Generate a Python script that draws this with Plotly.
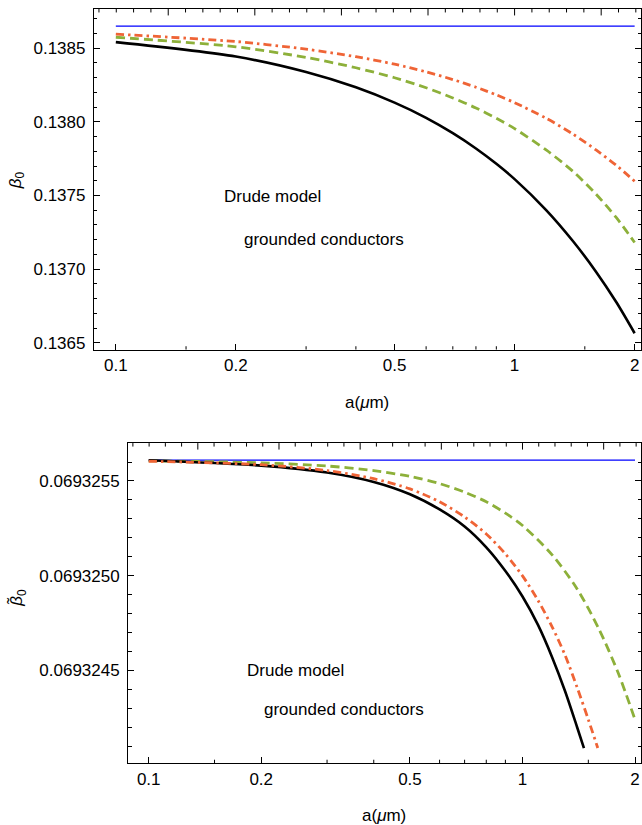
import numpy as np
import plotly.graph_objects as go

# ---------------- data: upper panel (beta_0) ----------------
a_line = [0.1, 2.0]
beta_perfect = 0.138649

a_top = [0.1, 0.2, 0.3, 0.4, 0.5, 0.6, 0.7, 0.8, 0.9, 1.0, 1.2, 1.4, 1.6, 1.8, 2.0]
black_top = [0.138541, 0.138443, 0.138338, 0.138234, 0.138130, 0.138027, 0.137923,
             0.137819, 0.137715, 0.137611, 0.137401, 0.137191, 0.136983, 0.136775,
             0.136565]
red_top = [0.138595, 0.138545, 0.138493, 0.138442, 0.138391, 0.138339, 0.138287,
           0.138235, 0.138183, 0.138130, 0.138024, 0.137917, 0.137809, 0.137704,
           0.137597]
green_top = [0.138574, 0.138509, 0.138437, 0.138367, 0.138299, 0.138231, 0.138162,
             0.138094, 0.138024, 0.137954, 0.137809, 0.137664, 0.137509, 0.137349,
             0.137181]

# ---------------- data: lower panel (beta~_0) ----------------
beta_t_perfect = 0.06932561

black_bot_a = [0.1, 0.2, 0.3, 0.4, 0.5, 0.6, 0.7, 0.8, 0.9, 1.0, 1.1, 1.2, 1.3, 1.4, 1.46]
black_bot = [0.0693256093, 0.0693255810, 0.0693255450, 0.0693254950, 0.0693254300,
             0.0693253500, 0.0693252600, 0.0693251500, 0.0693250250, 0.0693248900,
             0.0693247400, 0.0693245700, 0.0693243900, 0.0693242000, 0.0693240900]

red_bot_a = [0.1, 0.2, 0.3, 0.4, 0.5, 0.6, 0.7, 0.8, 0.9, 1.0, 1.1, 1.2, 1.3, 1.4, 1.5, 1.59]
red_bot = [0.0693256040, 0.0693255860, 0.0693255550, 0.0693255120, 0.0693254580,
           0.0693253900, 0.0693253100, 0.0693252200, 0.0693251150, 0.0693249990,
           0.0693248700, 0.0693247300, 0.0693245800, 0.0693244100, 0.0693242400,
           0.0693240900]

green_bot_a = [0.1, 0.2, 0.3, 0.4, 0.5, 0.6, 0.7, 0.8, 0.9, 1.0, 1.2, 1.4, 1.6, 1.8, 2.0]
green_bot = [0.0693256065, 0.0693255960, 0.0693255790, 0.0693255550, 0.0693255240,
             0.0693254860, 0.0693254410, 0.0693253900, 0.0693253300, 0.0693252650,
             0.0693251100, 0.0693249300, 0.0693247200, 0.0693244900, 0.0693242400]

# ---------------- tick labels ----------------
x_ticks = [0.1, 0.2, 0.5, 1, 2]
x_ticktext = ["0.1", "0.2", "0.5", "1", "2"]
x_minor = [0.15, 0.3, 0.4, 0.6, 0.7, 0.8, 0.9, 1.5]

y_top_ticks = [0.1365, 0.1370, 0.1375, 0.1380, 0.1385]
y_top_ticktext = ["0.1365", "0.1370", "0.1375", "0.1380", "0.1385"]
y_bot_ticks = [0.0693245, 0.0693250, 0.0693255]
y_bot_ticktext = ["0.0693245", "0.0693250", "0.0693255"]

# ---------------- styling ----------------
W, H = 642, 825
FONT = "Liberation Sans, Arial, Helvetica, sans-serif"
RED = "#EF6436"
GREEN = "#8DB03A"
BLUE = "#0000FF"

xr = [-1.0551, 0.317]
y_top_range = [0.136453, 0.138766]
y_bot_range = [0.06932401, 0.06932570]
top_dom_x = [94 / W, 1.0]
top_dom_y = [1 - 351 / H, 1 - 9 / H]
bot_dom_x = [128.3 / W, 1.0]
bot_dom_y = [1 - 766 / H, 1 - 444.7 / H]


def minor_vals(lo, hi, step, majors):
    vals = []
    v = lo
    while v <= hi + step / 2:
        if all(abs(v - m) > step / 10 for m in majors):
            vals.append(round(v, 10))
        v += step
    return vals


y_top_minor = minor_vals(0.1365, 0.1387, 0.0001, y_top_ticks)
y_bot_minor = minor_vals(0.0693241, 0.0693257, 0.0000001, y_bot_ticks)

# top-frame ticks: uniform steps of 0.1 in ln(a), longer every 0.5
ln_lo, ln_hi = xr[0] * np.log(10), xr[1] * np.log(10)
ks = range(int(np.ceil(ln_lo * 10)), int(np.floor(ln_hi * 10)) + 1)
top_major = [float(np.exp(k / 10)) for k in ks if k % 5 == 0]
top_minor = [float(np.exp(k / 10)) for k in ks if k % 5 != 0]

fig = go.Figure()


def add_series(xs, ys, color, width, dash, xa, ya, shape="spline"):
    fig.add_trace(go.Scatter(x=xs, y=ys, mode="lines", xaxis=xa, yaxis=ya,
                             line=dict(color=color, width=width, dash=dash, shape=shape,
                                       smoothing=0.8),
                             hoverinfo="skip", showlegend=False))


def add_frame_ticks(xs, edge, inward, xa, ya):
    # short vertical segments from a frame edge into the plot, separated by gaps
    tx, ty = [], []
    for v in xs:
        tx += [v, v, None]
        ty += [edge, edge + inward, None]
    fig.add_trace(go.Scatter(x=tx, y=ty, mode="lines", xaxis=xa, yaxis=ya,
                             line=dict(color="black", width=1),
                             connectgaps=False, hoverinfo="skip", showlegend=False))


# upper panel
add_series(a_line, [beta_perfect, beta_perfect], BLUE, 1.2, "solid", "x", "y", "linear")
add_series(a_top, green_top, GREEN, 2.8, "9px,5px", "x", "y")
add_series(a_top, red_top, RED, 2.8, "8px,4px,2.5px,4px", "x", "y")
add_series(a_top, black_top, "black", 2.6, "solid", "x", "y")

# lower panel
add_series(a_line, [beta_t_perfect, beta_t_perfect], BLUE, 1.2, "solid", "x2", "y2", "linear")
add_series(green_bot_a, green_bot, GREEN, 2.8, "9px,5px", "x2", "y2")
add_series(black_bot_a, black_bot, "black", 2.6, "solid", "x2", "y2")
add_series(red_bot_a, red_bot, RED, 2.8, "8px,4px,2.5px,4px", "x2", "y2")

# minor ticks on the bottom frames, and the ln-spaced ticks on the top frames
for xa, ya, yr, dom in (("x", "y", y_top_range, top_dom_y), ("x2", "y2", y_bot_range, bot_dom_y)):
    per_px = (yr[1] - yr[0]) / ((dom[1] - dom[0]) * H)
    add_frame_ticks(x_minor, yr[0], 3.5 * per_px, xa, ya)
    add_frame_ticks(top_minor, yr[1], -3.5 * per_px, xa, ya)
    add_frame_ticks(top_major, yr[1], -6.5 * per_px, xa, ya)

tickfont = dict(family=FONT, size=17, color="black")

common_x = dict(type="log", range=xr, showgrid=False, zeroline=False,
                showline=True, linecolor="black", linewidth=1, mirror=True,
                ticks="inside", ticklen=6, tickwidth=1, tickcolor="black",
                tickmode="array", tickvals=x_ticks, ticktext=x_ticktext,
                tickfont=tickfont)

common_y = dict(showgrid=False, zeroline=False, showline=True, linecolor="black",
                linewidth=1, mirror="allticks", ticks="inside", ticklen=6,
                tickwidth=1, tickcolor="black", tickmode="array", tickfont=tickfont,
                ticklabelstandoff=4)

fig.update_layout(
    width=W, height=H,
    margin=dict(l=0, r=0, t=0, b=0),
    paper_bgcolor="white", plot_bgcolor="white",
    showlegend=False,
    font=dict(family=FONT, size=17, color="black"),
    xaxis=dict(domain=top_dom_x, anchor="y", **common_x),
    yaxis=dict(domain=top_dom_y, anchor="x", range=y_top_range,
               tickvals=y_top_ticks, ticktext=y_top_ticktext,
               minor=dict(tickmode="array", tickvals=y_top_minor, ticks="inside",
                          ticklen=3.5, tickwidth=1, tickcolor="black", showgrid=False),
               **common_y),
    xaxis2=dict(domain=bot_dom_x, anchor="y2", **common_x),
    yaxis2=dict(domain=bot_dom_y, anchor="x2", range=y_bot_range,
                tickvals=y_bot_ticks, ticktext=y_bot_ticktext,
                minor=dict(tickmode="array", tickvals=y_bot_minor, ticks="inside",
                           ticklen=3.5, tickwidth=1, tickcolor="black", showgrid=False),
                **common_y),
)


def px_ann(text, x, y, xanchor="left", angle=0):
    fig.add_annotation(text=text, x=x / W, y=1 - y / H, xref="paper", yref="paper",
                       xanchor=xanchor, yanchor="middle", showarrow=False,
                       textangle=angle, font=dict(family=FONT, size=17, color="black"))


# axis titles
px_ann("<i>β</i><sub>0</sub>", 17, 181, xanchor="center", angle=-90)
px_ann("a(<i>μ</i>m)", 368, 404, xanchor="center")
px_ann("<i>β̃</i><sub>0</sub>", 18, 600, xanchor="center", angle=-90)
px_ann("a(<i>μ</i>m)", 385, 818, xanchor="center")

# in-plot labels
px_ann("Drude model", 222, 197.7)
px_ann("grounded conductors", 242, 240.3)
px_ann("Drude model", 245.5, 673.3)
px_ann("grounded conductors", 262, 711.7)

fig.write_html("out.html")
